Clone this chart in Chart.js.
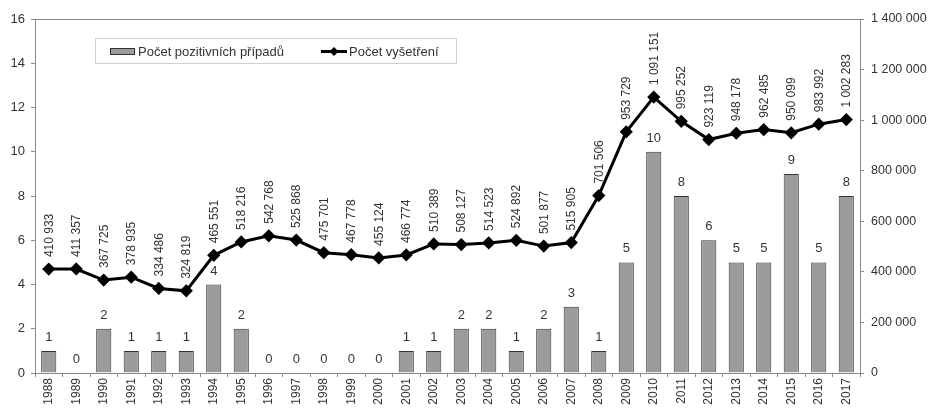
<!DOCTYPE html>
<html>

<head>
    <script src="https://cdn.jsdelivr.net/npm/chart.js@4.4.0/dist/chart.umd.min.js"></script>
    <style>
        body {
            margin: 0;
            background: #fff;
        }

        .chart {
            width: 931px;
            height: 412px;
        }
    </style>
</head>

<body>
    <div class="chart">
        <canvas id="chart"></canvas>
    </div>

    <script>
        const years = ['1988', '1989', '1990', '1991', '1992', '1993', '1994', '1995', '1996', '1997',
            '1998', '1999', '2000', '2001', '2002', '2003', '2004', '2005', '2006', '2007',
            '2008', '2009', '2010', '2011', '2012', '2013', '2014', '2015', '2016', '2017'
        ]
        const positive = [1, 0, 2, 1, 1, 1, 4, 2, 0, 0,
            0, 0, 0, 1, 1, 2, 2, 1, 2, 3,
            1, 5, 10, 8, 6, 5, 5, 9, 5, 8
        ]
        const tested = [410933, 411357, 367725, 378935, 334486, 324819, 465551, 518216, 542768, 525868,
            475701, 467778, 455124, 466774, 510389, 508127, 514523, 524892, 501877, 515905,
            701506, 953729, 1091151, 995252, 923119, 948178, 962485, 950099, 983992, 1002283
        ]
        const barLabel = 'Počet pozitivních případů'
        const lineLabel = 'Počet vyšetření'

        const FONT = '"Liberation Sans", Arial, sans-serif'
        const TXT = '#333333'

        function spaced(v) {
            return String(v).replace(/\B(?=(\d{3})+(?!\d))/g, ' ')
        }

        // value labels, plot frame and the boxed legend
        const extras = {
            id: 'extras',
            afterDatasetsDraw(chart) {
                const ctx = chart.ctx
                const area = chart.chartArea
                ctx.save()
                ctx.strokeStyle = '#8a8a8a'
                ctx.lineWidth = 1
                ctx.strokeRect(area.left + 0.5, area.top + 0.5, area.right - area.left, area.bottom - area.top)

                ctx.fillStyle = TXT
                ctx.textAlign = 'center'
                ctx.textBaseline = 'alphabetic'
                ctx.font = '13px ' + FONT
                chart.getDatasetMeta(0).data.forEach((bar, i) => {
                    ctx.fillText(String(positive[i]), bar.x, bar.y - 10)
                })
                ctx.font = '12px ' + FONT
                chart.getDatasetMeta(1).data.forEach((pt, i) => {
                    ctx.save()
                    ctx.translate(pt.x + 4, pt.y - 12)
                    ctx.rotate(-Math.PI / 2)
                    ctx.textAlign = 'left'
                    ctx.fillText(spaced(tested[i]), 0, 0)
                    ctx.restore()
                })

                // legend
                ctx.font = '13px ' + FONT
                ctx.fillStyle = '#ffffff'
                ctx.fillRect(95, 38, 361, 25)
                ctx.strokeStyle = '#d0d0d0'
                ctx.strokeRect(95.5, 38.5, 361, 25)
                ctx.fillStyle = '#9b9b9b'
                ctx.fillRect(110, 48, 25, 7)
                ctx.strokeStyle = '#333'
                ctx.strokeRect(110.5, 48.5, 24, 6)
                ctx.fillStyle = TXT
                ctx.textAlign = 'left'
                ctx.textBaseline = 'middle'
                ctx.fillText(barLabel, 138, 52)
                ctx.strokeStyle = '#000'
                ctx.lineWidth = 3
                ctx.beginPath()
                ctx.moveTo(321, 51.5)
                ctx.lineTo(347, 51.5)
                ctx.stroke()
                ctx.fillStyle = '#000'
                ctx.beginPath()
                ctx.moveTo(334, 47)
                ctx.lineTo(338.5, 51.5)
                ctx.lineTo(334, 56)
                ctx.lineTo(329.5, 51.5)
                ctx.closePath()
                ctx.fill()
                ctx.fillStyle = TXT
                ctx.fillText(lineLabel, 349, 52)
                ctx.restore()
            }
        }

        new Chart(document.getElementById('chart').getContext('2d'), {
            data: {
                labels: years,
                datasets: [{
                    type: 'bar',
                    label: barLabel,
                    data: positive,
                    yAxisID: 'y',
                    backgroundColor: '#9b9b9b',
                    borderColor: '#333333',
                    borderWidth: 1,
                    barPercentage: 0.55,
                    categoryPercentage: 1,
                    order: 2
                }, {
                    type: 'line',
                    label: lineLabel,
                    data: tested,
                    yAxisID: 'y1',
                    borderColor: '#000000',
                    backgroundColor: '#000000',
                    borderWidth: 3,
                    pointStyle: 'rectRot',
                    pointRadius: 4.5,
                    tension: 0,
                    order: 1
                }]
            },
            options: {
                animation: false,
                responsive: true,
                maintainAspectRatio: false,
                layout: {
                    padding: { top: 19, left: 0, right: 0, bottom: 0 }
                },
                plugins: {
                    legend: { display: false },
                    tooltip: { enabled: false },
                    title: { display: false }
                },
                scales: {
                    x: {
                        afterFit(s) { s.height = 39 },
                        grid: { display: true, drawOnChartArea: false, tickLength: 4, color: '#8a8a8a', offset: true },
                        border: { color: '#8a8a8a' },
                        ticks: {
                            minRotation: 90,
                            maxRotation: 90,
                            padding: 1,
                            color: TXT,
                            font: { family: FONT, size: 12 }
                        }
                    },
                    y: {
                        position: 'left',
                        min: 0,
                        max: 16,
                        afterFit(s) { s.width = 35 },
                        grid: { drawOnChartArea: false, tickLength: 4, color: '#8a8a8a' },
                        border: { color: '#8a8a8a' },
                        ticks: {
                            stepSize: 2,
                            padding: 6,
                            color: TXT,
                            font: { family: FONT, size: 13 }
                        }
                    },
                    y1: {
                        position: 'right',
                        min: 0,
                        max: 1400000,
                        afterFit(s) { s.width = 71 },
                        grid: { drawOnChartArea: false, tickLength: 4, color: '#8a8a8a' },
                        border: { color: '#8a8a8a' },
                        ticks: {
                            stepSize: 200000,
                            padding: 7,
                            color: TXT,
                            font: { family: FONT, size: 12.5 },
                            callback: v => spaced(v)
                        }
                    }
                }
            },
            plugins: [extras]
        });
    </script>
</body>

</html>
